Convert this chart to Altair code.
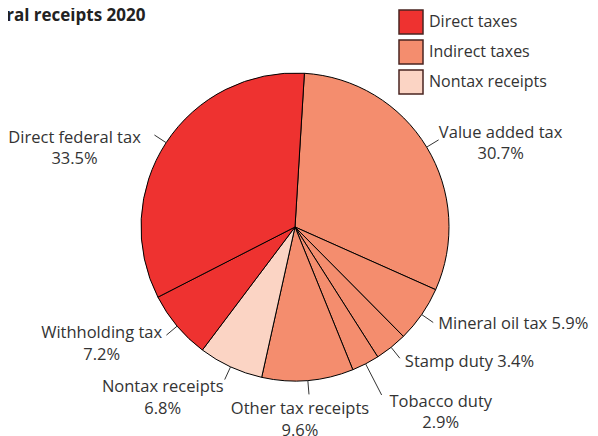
import math
import altair as alt
import pandas as pd

# ---- data ----
categories = ["Value added tax", "Mineral oil tax", "Stamp duty", "Tobacco duty",
              "Other tax receipts", "Nontax receipts", "Withholding tax", "Direct federal tax"]
shares = [30.7, 5.9, 3.4, 2.9, 9.6, 6.8, 7.2, 33.5]
groups = ["Indirect taxes", "Indirect taxes", "Indirect taxes", "Indirect taxes",
          "Indirect taxes", "Nontax receipts", "Direct taxes", "Direct taxes"]
group_order = ["Direct taxes", "Indirect taxes", "Nontax receipts"]
group_colors = ["#EE3230", "#F48D6E", "#FBD4C4"]
title_text = ["Federal receipts 2020"]

df = pd.DataFrame({"name": categories, "pct": shares, "group": groups,
                   "idx": list(range(len(categories)))})

# ---- layout / style ----
W, H = 574, 398
R = 154
START = 3.5 * math.pi / 180
FONT = "Open Sans"
FS = 16.5
NW, WW = 5.15, 9.4   # estimated widths of narrow / wide glyphs, for label centring
TXT = "#333333"
LH = 21.5

xs = alt.Scale(domain=[-W / 2, W / 2], nice=False, zero=False)
ys = alt.Scale(domain=[-H / 2, H / 2], nice=False, zero=False)

arcs = alt.Chart(df).mark_arc(outerRadius=R, stroke="black", strokeWidth=1).encode(
    theta=alt.Theta("pct:Q", stack=True,
                    scale=alt.Scale(range=[START, START + 2 * math.pi])),
    color=alt.Color("group:N",
                    scale=alt.Scale(domain=group_order, range=group_colors),
                    legend=alt.Legend(title=None, orient="none", legendX=390, legendY=-19,
                                      symbolType="square", symbolSize=576,
                                      symbolStrokeColor="#4a2420", symbolStrokeWidth=1.5,
                                      symbolOpacity=1, labelFontSize=16, labelFont=FONT,
                                      labelColor=TXT, labelOffset=5, rowPadding=0,
                                      padding=0)),
    order=alt.Order("idx:Q"),
)

base = (
    alt.Chart(df)
    .transform_window(cum="sum(pct)", sort=[alt.SortField("idx")], frame=[None, 0])
    .transform_calculate(mid="datum.cum - datum.pct / 2")
    .transform_calculate(a=f"{START} + 2 * PI * datum.mid / 100")
    .transform_calculate(s="sin(datum.a)")
    .transform_calculate(c="cos(datum.a)")
    .transform_calculate(lead="datum.pct < 3 ? 35 : 14")
    .transform_calculate(x0=f"{R} * datum.s")
    .transform_calculate(y0=f"{R} * datum.c")
    .transform_calculate(x1=f"({R} + datum.lead) * datum.s")
    .transform_calculate(y1=f"({R} + datum.lead) * datum.c")
    .transform_calculate(side="datum.s > 0.35 ? 1 : (datum.s < -0.35 ? -1 : 0)")
    .transform_calculate(inline="datum.s > 0.5 && datum.c < 0")
    .transform_calculate(nwide="length(replace(datum.name, regexp('[iltfrj .]', 'g'), ''))")
    .transform_calculate(w=f"{WW} * datum.nwide + {NW} * (length(datum.name) - datum.nwide)")
    .transform_calculate(
        xc="datum.side > 0 ? datum.x1 + (datum.c > 0 ? 0 : 7) + datum.w / 2 : "
           "(datum.side < 0 ? datum.x1 - 12 * datum.s * datum.s - (datum.c > 0 ? 6 : 0)"
           " - datum.w / 2 : datum.x1 - 9)")
    .transform_calculate(xl="datum.x1 + 5")
    .transform_calculate(
        yn="datum.inline ? datum.y1 - 9 * (-datum.c - 0.57) - 2 : "
           "(datum.c > 0 ? datum.y1 + (datum.s > 0 ? 14 : -5) * datum.c : "
           "datum.y1 - 36 * (-datum.c - 0.7) - (datum.side == 0 ? 4 : 0))")
    .transform_calculate(yp=f"datum.yn - {LH}")
    .transform_calculate(pctlabel="format(datum.pct, '.1f') + '%'")
    .transform_calculate(inl="datum.name + ' ' + format(datum.pct, '.1f') + '%'")
)

leaders = base.mark_rule(color=TXT, strokeWidth=1).encode(
    x=alt.X("x0:Q", scale=xs, axis=None),
    y=alt.Y("y0:Q", scale=ys, axis=None),
    x2="x1:Q",
    y2="y1:Q",
)

names = base.transform_filter("!datum.inline").mark_text(
    align="center", baseline="middle", font=FONT, fontSize=FS, color=TXT
).encode(x=alt.X("xc:Q", scale=xs, axis=None), y=alt.Y("yn:Q", scale=ys, axis=None),
         text="name:N")

pcts = base.transform_filter("!datum.inline").mark_text(
    align="center", baseline="middle", font=FONT, fontSize=FS, color=TXT
).encode(x=alt.X("xc:Q", scale=xs, axis=None), y=alt.Y("yp:Q", scale=ys, axis=None),
         text="pctlabel:N")

inlines = base.transform_filter("datum.inline").mark_text(
    align="left", baseline="middle", font=FONT, fontSize=FS, color=TXT
).encode(x=alt.X("xl:Q", scale=xs, axis=None), y=alt.Y("yn:Q", scale=ys, axis=None),
         text="inl:N")

# chart title (the reference crops its first letters at the left edge)
title = alt.Chart(pd.DataFrame({"t": title_text})).mark_text(
    align="left", baseline="alphabetic", font=FONT, fontSize=17, fontWeight="bold",
    color="#222222"
).encode(text="t:N", x=alt.value(-42), y=alt.value(-7))

chart = (
    alt.layer(arcs, leaders, names, pcts, inlines, title)
    .properties(
        width=W, height=H,
        autosize=alt.AutoSizeParams(type="none"),
        padding={"left": 0, "top": 20, "right": 8, "bottom": 10},
    )
    .configure_view(stroke=None)
)

chart.save("out.html", embed_options={"renderer": "svg", "actions": False})
